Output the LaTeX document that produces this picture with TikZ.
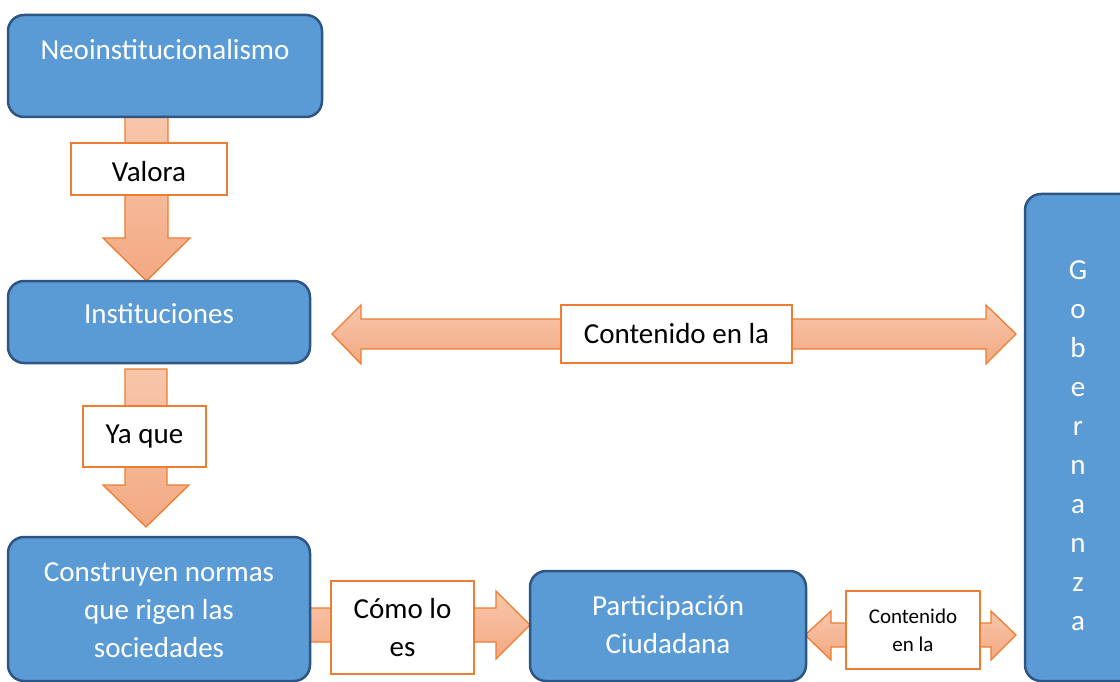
\documentclass[tikz,border=0pt]{standalone}
\usepackage{fontspec}
\setmainfont{Carlito}
\definecolor{bfill}{HTML}{5B9BD5}
\definecolor{bline}{HTML}{2E5583}
\definecolor{oline}{HTML}{ED7D31}
\definecolor{otop}{HTML}{F8C6AB}
\definecolor{obot}{HTML}{F3A982}
\tikzset{
  bluebox/.style={draw=bline, fill=bfill, line width=2.5pt, rounded corners=16pt, inner sep=0pt},
  btext/.style={text=white, font=\fontsize{29}{38}\selectfont, align=center, inner sep=0pt},
  lbox/.style={draw=oline, fill=white, line width=2.5pt, inner sep=0pt, font=\fontsize{29}{38}\selectfont, align=center},
  blockarrow/.style={draw=oline, line width=1.3pt, top color=otop, bottom color=obot, line join=miter},
}
\begin{document}
\begin{tikzpicture}[x=1pt, y=-1pt]
\clip (0,0) rectangle (1120,682);
\fill[white] (0,0) rectangle (1120,682);
% block arrows
\path[blockarrow] (125,117) -- (125,238) -- (103,238) -- (146.5,281) -- (190,238) -- (168,238) -- (168,117) -- cycle;
\path[blockarrow] (125,369) -- (125,485) -- (103,485) -- (146,527) -- (189,485) -- (167,485) -- (167,369) -- cycle;
\path[blockarrow] (310,608) -- (496,608) -- (496,591) -- (530,625) -- (496,659) -- (496,642) -- (310,642) -- cycle;
\path[blockarrow] (332,334) -- (361,305) -- (361,319) -- (986,319) -- (986,305) -- (1016,334) -- (986,364) -- (986,349) -- (361,349) -- (361,364) -- cycle;
\path[blockarrow] (805,635) -- (831,611) -- (831,623) -- (991,623) -- (991,611) -- (1016,635) -- (991,660) -- (991,647) -- (831,647) -- (831,660) -- cycle;
% blue boxes
\node[bluebox, minimum width=314pt, minimum height=102pt] (neo) at (165,66) {};
\node[btext] (neotxt) at (165,50) {Neoinstitucionalismo};
\node[bluebox, minimum width=302pt, minimum height=82pt] (inst) at (159,322) {};
\node[btext] (insttxt) at (159,314) {Instituciones};
\node[bluebox, minimum width=302pt, minimum height=144pt] (cons) at (159,609) {};
\node[btext] (constxt) at (159,610) {Construyen normas\\que rigen las\\sociedades};
\node[bluebox, minimum width=276pt, minimum height=110pt] (part) at (668,626) {};
\node[btext] (parttxt) at (668,625) {Participación\\Ciudadana};
\node[bluebox, minimum width=135pt, minimum height=487pt] (gob) at (1092.5,437.5) {};
\node[btext, font=\fontsize{29}{39}\selectfont] (gobtxt) at (1078,446) {G\\o\\b\\e\\r\\n\\a\\n\\z\\a};
% label boxes
\node[lbox, minimum width=156pt, minimum height=52pt, text height=26pt, text depth=0pt] (valora) at (149,169) {Valora};
\node[lbox, minimum width=123pt, minimum height=61pt] (yaque) at (144.5,436.5) {Ya que};
\node[lbox, minimum width=231pt, minimum height=58pt] (cont1) at (676.5,334) {Contenido en la};
\node[lbox, minimum width=143pt, minimum height=93pt] (como) at (402.5,627.5) {Cómo lo\\es};
\node[lbox, minimum width=134pt, minimum height=78pt, font=\fontsize{21}{28}\selectfont] (cont2) at (913,630) {Contenido\\en la};
\end{tikzpicture}
\end{document}
